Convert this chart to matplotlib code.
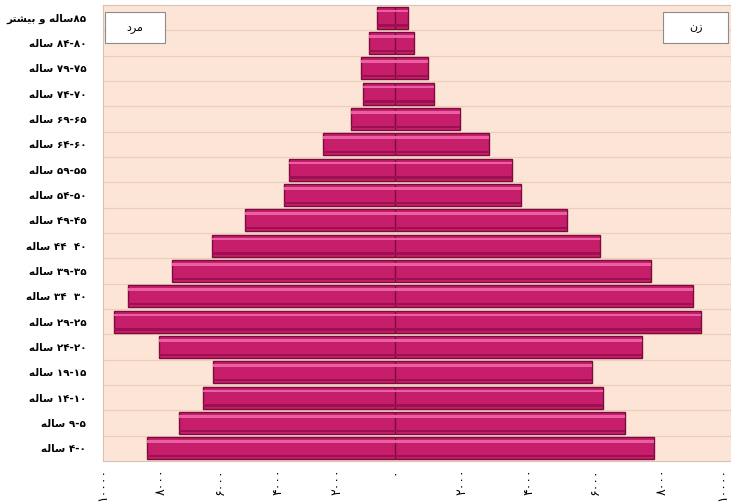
import re
import numpy as np
import matplotlib
matplotlib.use('Agg')
import matplotlib.pyplot as plt
from matplotlib.patches import Rectangle

# Age groups, youngest first (logical Persian text)
ages = ['۰-۴ ساله', '۵-۹ ساله', '۱۰-۱۴ ساله', '۱۵-۱۹ ساله', '۲۰-۲۴ ساله',
        '۲۵-۲۹ ساله', '۳۰  ۳۴ ساله', '۳۵-۳۹ ساله', '۴۰  ۴۴ ساله', '۴۵-۴۹ ساله',
        '۵۰-۵۴ ساله', '۵۵-۵۹ ساله', '۶۰-۶۴ ساله', '۶۵-۶۹ ساله', '۷۰-۷۴ ساله',
        '۷۵-۷۹ ساله', '۸۰-۸۴ ساله', '۸۵ساله و بیشتر']
male = [8490, 7400, 6580, 6230, 8080, 9620, 9140, 7640, 6270, 5140,
        3800, 3630, 2470, 1510, 1100, 1160, 890, 620]
female = [7740, 6900, 6220, 5890, 7410, 9170, 8930, 7650, 6130, 5150,
          3780, 3510, 2800, 1960, 1160, 980, 570, 390]
left_ticks = [10000, 8000, 6000, 4000, 2000, 0]
left_tick_labels = ['۱۰۰۰۰', '۸۰۰۰', '۶۰۰۰', '۴۰۰۰', '۲۰۰۰', '۰']
right_ticks = [2000, 4000, 6000, 8000, 10000]
right_tick_labels = ['۲۰۰۰', '۴۰۰۰', '۶۰۰۰', '۸۰۰۰', '۱۰۰۰۰']
male_title = 'مرد'
female_title = 'زن'

# Presentation forms: isolated, final, initial, medial
FORMS = {
    'ا': (0xFE8D, 0xFE8E, 0xFE8D, 0xFE8E),
    'ب': (0xFE8F, 0xFE90, 0xFE91, 0xFE92),
    'ت': (0xFE95, 0xFE96, 0xFE97, 0xFE98),
    'د': (0xFEA9, 0xFEAA, 0xFEA9, 0xFEAA),
    'ر': (0xFEAD, 0xFEAE, 0xFEAD, 0xFEAE),
    'ز': (0xFEAF, 0xFEB0, 0xFEAF, 0xFEB0),
    'س': (0xFEB1, 0xFEB2, 0xFEB3, 0xFEB4),
    'ش': (0xFEB5, 0xFEB6, 0xFEB7, 0xFEB8),
    'ل': (0xFEDD, 0xFEDE, 0xFEDF, 0xFEE0),
    'م': (0xFEE1, 0xFEE2, 0xFEE3, 0xFEE4),
    'ن': (0xFEE5, 0xFEE6, 0xFEE7, 0xFEE8),
    'ه': (0xFEE9, 0xFEEA, 0xFEEB, 0xFEEC),
    'و': (0xFEED, 0xFEEE, 0xFEED, 0xFEEE),
    'ی': (0xFBFC, 0xFBFD, 0xFBFE, 0xFBFF),
}
NO_NEXT = set('ادرزو')


def shape(word):
    out = []
    for i, ch in enumerate(word):
        prev = i > 0 and word[i - 1] not in NO_NEXT
        nxt = ch not in NO_NEXT and i + 1 < len(word)
        iso, fin, ini, med = FORMS[ch]
        if prev and nxt:
            code = med
        elif prev:
            code = fin
        elif nxt:
            code = ini
        else:
            code = iso
        out.append(chr(code))
    return ''.join(reversed(out))


def visual(text):
    tokens = re.findall(r'[۰-۹]+|[\u0621-\u064A\u067E-\u06CC]+|.', text)
    tokens = [shape(t) if t[0] in FORMS else t for t in tokens]
    return ''.join(reversed(tokens))


plt.rcParams['font.family'] = ['DejaVu Sans']

bar_color = '#C71E6C'
edge_color = '#7A0C3C'
light_color = '#EA5FA2'
dark_color = '#9C1050'
bg_color = '#FCE5D6'

fig = plt.figure(figsize=(7.31, 5.04), dpi=100)
ax_l = fig.add_axes([103 / 731, 43 / 504, 292 / 731, 456 / 504])
ax_r = fig.add_axes([395 / 731, 43 / 504, 336 / 731, 456 / 504])

y = np.arange(len(ages))
h = 0.86

for ax, vals in ((ax_l, male), (ax_r, female)):
    ax.set_facecolor(bg_color)
    ax.barh(y, vals, height=h, color=bar_color, edgecolor=edge_color, linewidth=1.0, zorder=3)
    ax.barh(y + h * 0.30, vals, height=h * 0.12, color=light_color, linewidth=0, zorder=4)
    ax.barh(y - h * 0.36, vals, height=h * 0.1, color=dark_color, linewidth=0, zorder=4)
    ax.set_ylim(-0.5, len(ages) - 0.5)
    ax.set_yticks(y[:-1] + 0.5, minor=True)
    ax.grid(axis='y', which='minor', color='#EACFBC', linewidth=0.9, zorder=1)
    ax.tick_params(axis='y', which='both', length=0)
    ax.tick_params(axis='x', length=0, pad=5, labelsize=9, labelrotation=90)
    for s in ax.spines.values():
        s.set_color('#D8C2B2')
        s.set_linewidth(0.8)

ax_l.set_xlim(10000, 0)
ax_l.set_xticks(left_ticks, left_tick_labels)
ax_l.set_yticks(y, [visual(a) for a in ages], fontsize=7.5, fontweight='bold')
ax_l.tick_params(axis='y', pad=12)
ax_l.spines['right'].set_visible(False)

ax_r.set_xlim(0, 10060)
ax_r.set_xticks(right_ticks, right_tick_labels)
ax_r.set_yticks([])
ax_r.spines['left'].set_visible(False)

for lab in ax_l.get_xticklabels() + ax_r.get_xticklabels():
    lab.set_va('top')
# keep the last label inside the picture
ax_r.get_xticklabels()[-1].set_ha('right')

# Legend boxes
for x0, w, title in ((105, 60, male_title), (663, 65, female_title)):
    fig.patches.append(Rectangle((x0 / 731, (504 - 43) / 504), w / 731, 31 / 504,
                                 transform=fig.transFigure, facecolor='white',
                                 edgecolor='#8C8C8C', linewidth=0.8, zorder=5))
    fig.text((x0 + w / 2) / 731, (504 - 28) / 504, visual(title), fontsize=8,
             ha='center', va='center', zorder=6)

fig.savefig('out.png', dpi=100)
